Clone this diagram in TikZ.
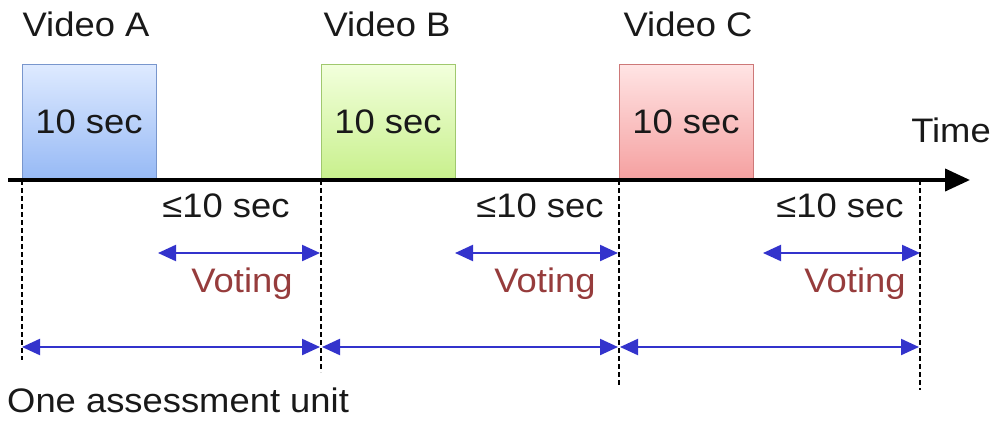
\documentclass[tikz,border=0pt]{standalone}
\usepackage{fontspec}
\setmainfont{Liberation Sans}
\usetikzlibrary{arrows.meta}
\definecolor{arrblue}{RGB}{51,51,204}
\definecolor{votered}{RGB}{150,60,60}
\definecolor{txt}{RGB}{25,25,25}
\newcommand{\stretchtxt}[1]{\scalebox{1.07}[1]{#1}}
\begin{document}
\begin{tikzpicture}[x=1pt,y=-1pt,
  lbl/.style={font=\fontsize{34}{40}\selectfont, text=txt, inner sep=0pt, anchor=base},
  vote/.style={lbl, text=votered},
  vbox/.style={draw, line width=0.8pt, minimum width=134pt, minimum height=115pt, inner sep=0pt, anchor=south west},
  dashv/.style={draw=black, line width=2.2pt, dash pattern=on 5pt off 3pt},
  dbl/.style={draw=arrblue, line width=2.2pt, {Triangle[length=18pt,width=16pt]}-{Triangle[length=18pt,width=16pt]}},
  axis/.style={draw=black, line width=4pt, -{Triangle[length=25pt,width=22pt]}}]
\useasboundingbox (0,0) rectangle (999,424);
% time marks
\coordinate (t0) at (22,180);
\coordinate (t1) at (321,180);
\coordinate (t2) at (619,180);
\coordinate (t3) at (920,180);
\coordinate (b0) at (22,360);
\coordinate (b1) at (321,372);
\coordinate (b2) at (619,385);
\coordinate (b3) at (920,390);
% boxes
\node[vbox, draw={rgb,255:red,120;green,150;blue,205}, top color={rgb,255:red,222;green,234;blue,255}, bottom color={rgb,255:red,150;green,185;blue,245}] (ba) at (t0) {};
\node[vbox, draw={rgb,255:red,160;green,200;blue,110}, top color={rgb,255:red,242;green,255;blue,220}, bottom color={rgb,255:red,200;green,240;blue,140}] (bb) at (t1) {};
\node[vbox, draw={rgb,255:red,205;green,120;blue,120}, top color={rgb,255:red,255;green,228;blue,228}, bottom color={rgb,255:red,245;green,160;blue,160}] (bc) at (t2) {};
\node[lbl] (sa) at (89,133) {\stretchtxt{10 sec}};
\node[lbl] (sb) at (388,133) {\stretchtxt{10 sec}};
\node[lbl] (sc) at (686,133) {\stretchtxt{10 sec}};
% titles
\node[lbl] (va) at (86,36) {\stretchtxt{Video A}};
\node[lbl] (vb) at (387,36) {\stretchtxt{Video B}};
\node[lbl] (vc) at (688,36) {\stretchtxt{Video C}};
\node[lbl] (time) at (951,142) {\stretchtxt{Time}};
% dashed verticals
\draw[dashv] (t0) -- (b0);
\draw[dashv] (t1) -- (b1);
\draw[dashv] (t2) -- (b2);
\draw[dashv] (t3) -- (b3);
% axis
\coordinate (axs) at (8,180);
\coordinate (axe) at (970,180);
\draw[axis] (axs) -- (axe);
% voting intervals
\coordinate (v0s) at (158,253);
\coordinate (v0e) at (320,253);
\coordinate (v1s) at (455,253);
\coordinate (v1e) at (618,253);
\coordinate (v2s) at (763,253);
\coordinate (v2e) at (920,253);
\draw[dbl] (v0s) -- (v0e);
\draw[dbl] (v1s) -- (v1e);
\draw[dbl] (v2s) -- (v2e);
\node[lbl] (le0) at (226,217) {\stretchtxt{≤10 sec}};
\node[lbl] (le1) at (540,217) {\stretchtxt{≤10 sec}};
\node[lbl] (le2) at (840,217) {\stretchtxt{≤10 sec}};
\node[vote] (vt0) at (242,292) {\stretchtxt{Voting}};
\node[vote] (vt1) at (545,292) {\stretchtxt{Voting}};
\node[vote] (vt2) at (855,292) {\stretchtxt{Voting}};
% assessment units
\coordinate (u0s) at (22,347);
\coordinate (u0e) at (320,347);
\coordinate (u1s) at (322,347);
\coordinate (u1e) at (618,347);
\coordinate (u2s) at (620,347);
\coordinate (u2e) at (919,347);
\draw[dbl] (u0s) -- (u0e);
\draw[dbl] (u1s) -- (u1e);
\draw[dbl] (u2s) -- (u2e);
\node[lbl, anchor=base west] (unit) at (7,412) {\stretchtxt{One assessment unit}};
\end{tikzpicture}
\end{document}
